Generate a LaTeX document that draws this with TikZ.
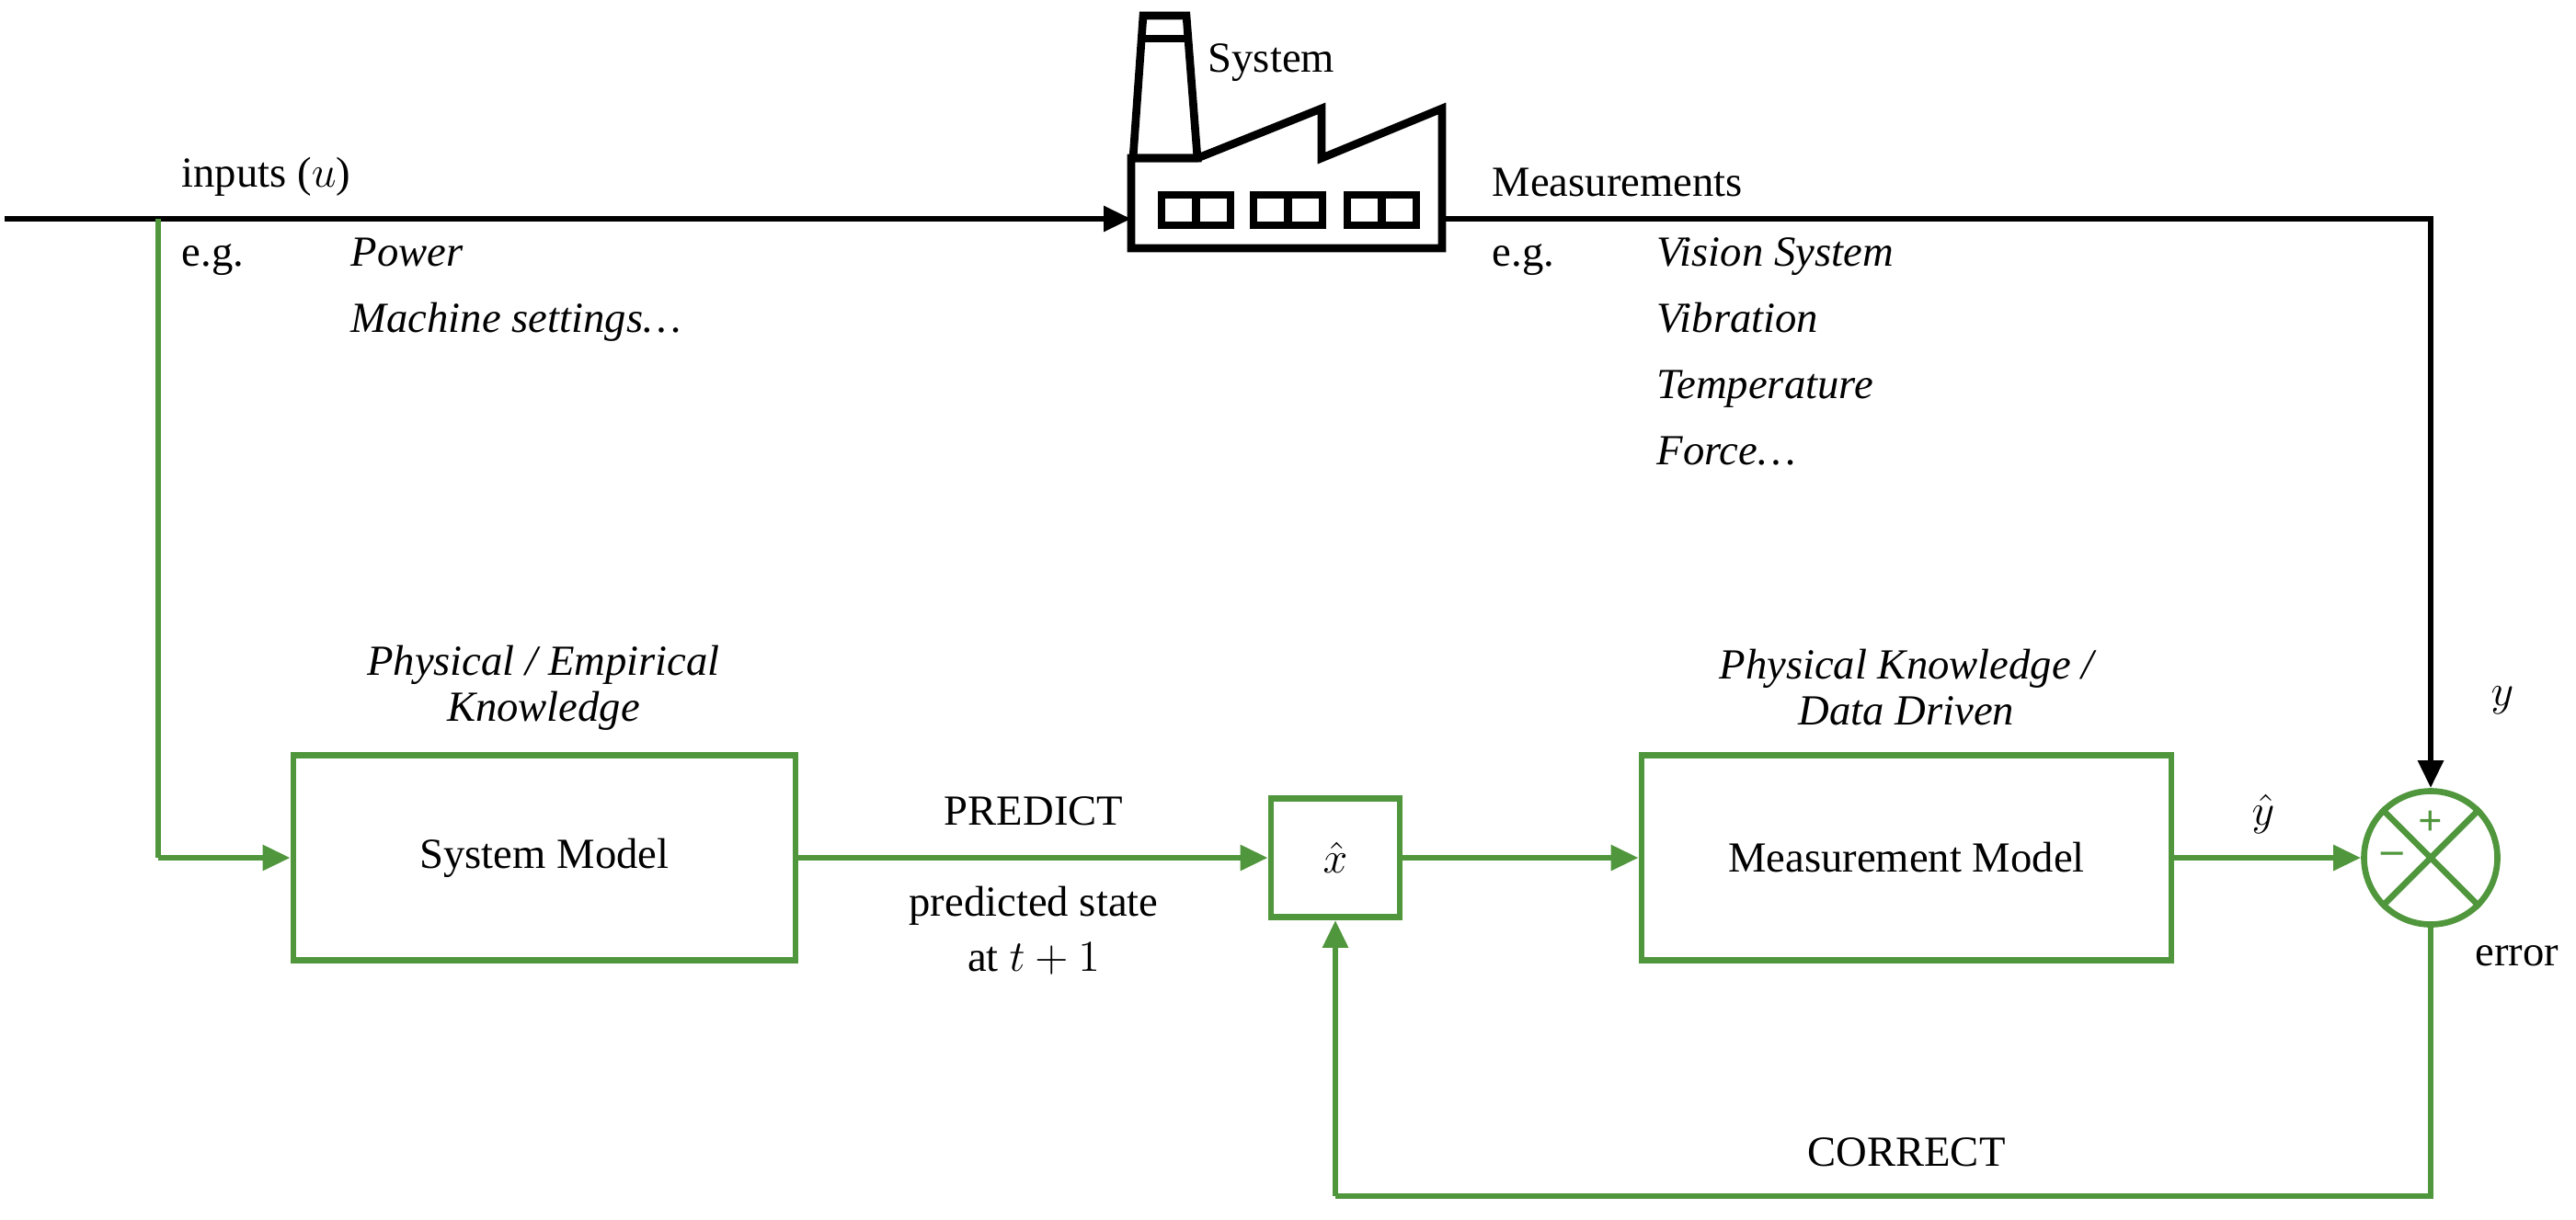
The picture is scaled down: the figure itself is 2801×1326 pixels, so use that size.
\documentclass[tikz,border=0pt]{standalone}
\usepackage{fontspec}
\setmainfont{Liberation Serif}
\usetikzlibrary{arrows.meta}
\definecolor{gr}{RGB}{80,150,60}
\begin{document}
\begin{tikzpicture}[x=0.3pt,y=-0.3pt,font=\fontsize{14}{16}\selectfont,
  gline/.style={gr,line width=2pt},
  garrow/.style={gline,-{Triangle[length=9pt,width=8pt]}},
  barrow/.style={black,line width=2pt,-{Triangle[length=9pt,width=8pt]}},
  gbox/.style={draw=gr,line width=2pt,inner sep=0pt},
  fac/.style={line width=2.6pt,line join=miter}]
\useasboundingbox (0,0) rectangle (2801,1326);
% factory
\coordinate (fac) at (1230,238);
\draw[fac,fill=white] (1232,172) -- (1243,17) -- (1290,17) -- (1302,172) -- cycle;
\draw[fac] (1240,42) -- (1292,42);
\draw[fac] (1230,172) -- (1302,172) -- (1437,118) -- (1437,172) -- (1568,118) -- (1568,270) -- (1230,270) -- cycle;
\foreach \a in {1263,1363,1465}{
  \draw[fac] (\a,212) rectangle ++(75,33);
  \draw[fac] (\a+37.5,212) -- (\a+37.5,245);
}
\node[anchor=base west,inner sep=0] (systxt) at (1313,78) {System};
% top line
\coordinate (start) at (5,238);
\coordinate (tap) at (172,238);
\draw[barrow] (start) -- (fac);
\coordinate (mout) at (1568,238);
\coordinate (corner) at (2643,238);
% boxes
\node[gbox,minimum width=546*0.3pt,minimum height=223*0.3pt] (sm) at (592,933) {System Model};
\node[gbox,minimum width=140*0.3pt,minimum height=129*0.3pt] (xh) at (1452,933) {$\hat{x}$};
\node[gbox,minimum width=576*0.3pt,minimum height=223*0.3pt] (mm) at (2073,933) {Measurement Model};
\node[draw=gr,line width=2pt,circle,minimum size=145*0.3pt,inner sep=0] (sum) at (2643,933) {};
\draw[gline] (sum.north west) -- (sum.south east) (sum.north east) -- (sum.south west);
\node[gr,font=\bfseries\fontsize{14}{16}\selectfont,inner sep=0] (plus) at (2643,895) {+};
\node[gr,font=\bfseries\fontsize{14}{16}\selectfont,inner sep=0] (minus) at (2601,933) {\textendash};
% connectors
\draw[barrow] (mout) -- (corner) -- (sum.north);
\draw[gline] (tap) -- (172,933) coordinate (c1);
\draw[garrow] (c1) -- (sm.west);
\draw[garrow] (sm.east) -- (xh.west);
\draw[garrow] (xh.east) -- (mm.west);
\draw[garrow] (mm.east) -- (sum.west);
\coordinate (b1) at (2643,1301);
\coordinate (b2) at (1452,1301);
\draw[gline] (sum.south) -- (b1) -- (b2);
\draw[garrow] (b2) -- (xh.south);
% labels
\node[anchor=base west,inner sep=0] (inp) at (197,203) {inputs ($u$)};
\node[anchor=base west,inner sep=0] (eg1) at (197,289) {e.g.};
\node[anchor=base west,inner sep=0,font=\itshape\fontsize{14}{16}\selectfont] (pw) at (381,289) {Power};
\node[anchor=base west,inner sep=0,font=\itshape\fontsize{14}{16}\selectfont] (ms) at (381,361) {Machine settings\dots};
\node[anchor=base west,inner sep=0] (meas) at (1622,213) {Measurements};
\node[anchor=base west,inner sep=0] (eg2) at (1622,289) {e.g.};
\foreach \t/\yy [count=\i] in {Vision System/289,Vibration/361,Temperature/433,Force\dots/505}
  \node[anchor=base west,inner sep=0,font=\itshape\fontsize{14}{16}\selectfont] (m\i) at (1801,\yy) {\t};
\node[align=center,font=\itshape\fontsize{14}{16}\selectfont,inner sep=0] (pk1) at (591,748) {Physical / Empirical\\[-1pt]Knowledge};
\node[align=center,font=\itshape\fontsize{14}{16}\selectfont,inner sep=0] (pk2) at (2073,748) {Physical Knowledge /\\[-1pt]Data Driven};
\node[inner sep=0] (pred) at (1124,882) {PREDICT};
\node[align=center,inner sep=0] (ps) at (1124,1012) {predicted state\\[2pt]at $t+1$};
\node[inner sep=0] (corr) at (2073,1253) {CORRECT};
\node[inner sep=0] (yh) at (2461,885) {$\hat{y}$};
\node[inner sep=0] (yl) at (2721,762) {$y$};
\node[inner sep=0] (err) at (2737,1040) {error};
\end{tikzpicture}
\end{document}
